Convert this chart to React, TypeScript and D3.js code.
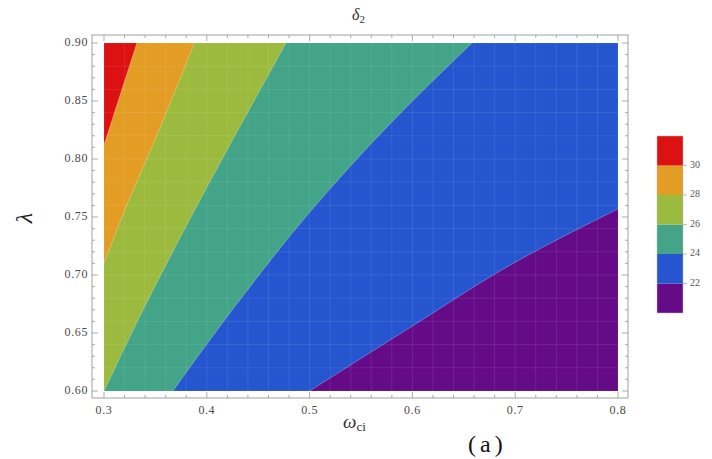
import * as d3 from 'd3'

// band colours from lowest (below 22) to highest (above 30)
const bandColors = ['#650b87', '#2556cf', '#43a487', '#9cba3d', '#e39c24', '#dc1111']
const legendTicks = [22, 24, 26, 28, 30]
const legendDomain = [20, 32]
const omegaTicks = [0.3, 0.4, 0.5, 0.6, 0.7, 0.8]
const lambdaTicks = [0.6, 0.65, 0.7, 0.75, 0.8, 0.85, 0.9]

// contour crossings, as [omega, lambda]
const contour22 = [[0.5, 0.6], [0.6, 0.656], [0.7, 0.711], [0.8, 0.757]]
const contour24 = [[0.367, 0.6], [0.43, 0.676], [0.5, 0.754], [0.58, 0.832], [0.658, 0.9]]
const contour26 = [[0.3, 0.6], [0.338, 0.67], [0.378, 0.739], [0.426, 0.818], [0.477, 0.9]]
const contour28 = [[0.3, 0.71], [0.322, 0.76], [0.345, 0.807], [0.388, 0.9]]
const contour30 = [[0.3, 0.812], [0.316, 0.856], [0.332, 0.9]]
const contours = [contour22, contour24, contour26, contour28, contour30]

const W = 712
const H = 459
const frame = { left: 92, right: 628, top: 35, bottom: 398 }

export default function App() {
  const x = d3.scaleLinear().domain([0.3, 0.8]).range([104, 618])
  const y = d3.scaleLinear().domain([0.6, 0.9]).range([391, 43])
  const [x0, x1] = x.domain()
  const [y0, y1] = y.domain()

  const line = d3.line<number[]>()
    .x(d => x(d[0]))
    .y(d => y(d[1]))
    .curve(d3.curveMonotoneY)

  const regionPath = (pts: number[][]) => {
    const first = pts[0]
    const last = pts[pts.length - 1]
    return line(pts) +
      `L${x(last[0])},${y(y1)}L${x(x0)},${y(y1)}L${x(x0)},${y(y0)}L${x(first[0])},${y(first[1])}Z`
  }

  const xMinor = x.ticks(25)
  const yMinor = y.ticks(30)

  const leg = d3.scaleLinear().domain(legendDomain).range([313, 136])
  const legendBands = d3.range(legendDomain[0], legendDomain[1], 2)

  const tickColor = '#8a8a8a'
  const labelFont = '"Liberation Serif", "DejaVu Serif", serif'

  return (
    <svg width={W} height={H} style={{ position: 'absolute', left: 0, top: 0, background: '#fff' }}>
      {/* filled contour bands */}
      <rect x={x(x0)} y={y(y1)} width={x(x1) - x(x0)} height={y(y0) - y(y1)} fill={bandColors[0]} />
      {contours.map((c, i) => (
        <path key={i} d={regionPath(c)} fill={bandColors[i + 1]} />
      ))}

      {/* faint mesh lines */}
      <g stroke="#ffffff" strokeOpacity={0.09} strokeWidth={1}>
        {xMinor.map((t, i) => (
          <line key={'vx' + i} x1={x(t)} x2={x(t)} y1={y(y1)} y2={y(y0)} />
        ))}
        {yMinor.filter((_, i) => i % 2 === 0).map((t, i) => (
          <line key={'hy' + i} x1={x(x0)} x2={x(x1)} y1={y(t)} y2={y(t)} />
        ))}
      </g>

      {/* contour lines */}
      {contours.map((c, i) => (
        <path key={'c' + i} d={line(c) || ''} fill="none" stroke="#ffffff" strokeOpacity={0.35} strokeWidth={0.8} />
      ))}

      {/* frame */}
      <rect x={frame.left} y={frame.top} width={frame.right - frame.left} height={frame.bottom - frame.top}
        fill="none" stroke={tickColor} strokeWidth={0.8} />

      {/* ticks on all four sides */}
      <g stroke={tickColor} strokeWidth={0.7}>
        {xMinor.map((t, i) => {
          const major = omegaTicks.some(m => Math.abs(m - t) < 1e-9)
          const len = major ? 6 : 3
          return (
            <g key={'xt' + i}>
              <line x1={x(t)} x2={x(t)} y1={frame.bottom} y2={frame.bottom - len} />
              <line x1={x(t)} x2={x(t)} y1={frame.top} y2={frame.top + len} />
            </g>
          )
        })}
        {yMinor.map((t, i) => {
          const major = lambdaTicks.some(m => Math.abs(m - t) < 1e-9)
          const len = major ? 6 : 3
          return (
            <g key={'yt' + i}>
              <line x1={frame.left} x2={frame.left + len} y1={y(t)} y2={y(t)} />
              <line x1={frame.right} x2={frame.right - len} y1={y(t)} y2={y(t)} />
            </g>
          )
        })}
      </g>

      {/* tick labels */}
      <g fill="#4a4a4a" fontFamily={labelFont} fontSize={12} letterSpacing={0.6}>
        {omegaTicks.map(t => (
          <text key={'xl' + t} x={x(t)} y={414} textAnchor="middle">{d3.format('.1f')(t)}</text>
        ))}
        {lambdaTicks.map(t => (
          <text key={'yl' + t} x={88} y={y(t)} textAnchor="end" dominantBaseline="middle">{d3.format('.2f')(t)}</text>
        ))}
      </g>

      {/* title and axis labels */}
      <text x={352} y={20} fontFamily={labelFont} fontStyle="italic" fontSize={16} fill="#333">
        δ<tspan fontSize={11} dy={3} fontStyle="normal">2</tspan>
      </text>
      <text x={343} y={428} fontFamily={labelFont} fontStyle="italic" fontSize={19} fill="#333">
        ω<tspan fontSize={13} dy={3} fontStyle="normal">ci</tspan>
      </text>
      <text transform="translate(32,218) rotate(-90)" textAnchor="middle" fontFamily={labelFont}
        fontStyle="italic" fontSize={24} fill="#222">λ</text>

      {/* legend */}
      {legendBands.map((b, i) => (
        <rect key={'lb' + b} x={657} y={leg(b + 2)} width={26} height={leg(b) - leg(b + 2)} fill={bandColors[i]} />
      ))}
      <rect x={657} y={leg(legendDomain[1])} width={26} height={leg(legendDomain[0]) - leg(legendDomain[1])}
        fill="none" stroke="#bbb" strokeWidth={0.5} />
      <g fill="#555" fontFamily={labelFont} fontSize={10}>
        {legendTicks.map(t => (
          <g key={'lt' + t}>
            <line x1={683} x2={687} y1={leg(t)} y2={leg(t)} stroke="#999" strokeWidth={0.6} />
            <text x={690} y={leg(t)} dominantBaseline="middle">{t}</text>
          </g>
        ))}
      </g>

      {/* panel label at the bottom edge */}
      <text x={468} y={452} fontFamily={labelFont} fontSize={24} letterSpacing={4} fill="#111">(a)</text>
    </svg>
  )
}
